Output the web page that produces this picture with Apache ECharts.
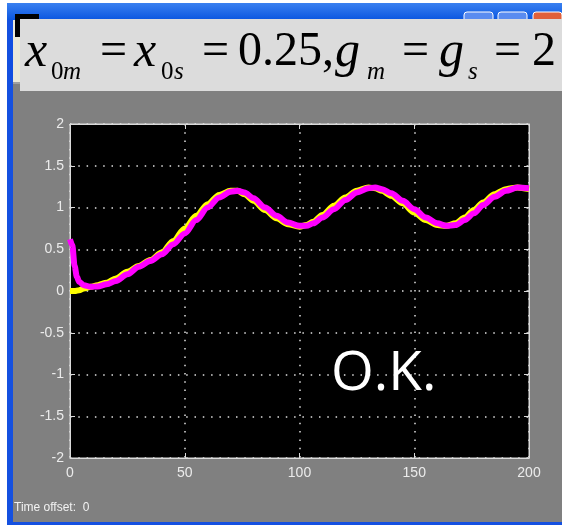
<!DOCTYPE html>
<html>
<head>
<meta charset="utf-8">
<script src="https://cdn.jsdelivr.net/npm/echarts@6.0.0/dist/echarts.min.js"></script>
<style>
html,body{margin:0;padding:0;background:#808080;}
#c{width:562px;height:525px;}
</style>
</head>
<body>
<div id="c"></div>
<script>
// ---- data ----
const timeMagenta = [0, 1, 2, 3, 4, 6, 9, 12, 16, 20, 25, 30, 35, 40, 45, 50, 55, 60, 65, 70, 73, 76, 80, 85, 90, 95, 100, 103, 106, 110, 115, 120, 125, 130, 133, 136, 140, 145, 150, 155, 160, 164, 168, 172, 176, 180, 185, 190, 195, 200];
const magentaValues = [0.62, 0.55, 0.3, 0.17, 0.11, 0.07, 0.05, 0.055, 0.08, 0.12, 0.2, 0.29, 0.36, 0.44, 0.56, 0.69, 0.85, 1.0, 1.12, 1.19, 1.2, 1.18, 1.11, 1.0, 0.9, 0.82, 0.78, 0.78, 0.81, 0.88, 0.98, 1.09, 1.18, 1.23, 1.24, 1.22, 1.17, 1.08, 0.98, 0.88, 0.81, 0.78, 0.79, 0.85, 0.93, 1.03, 1.13, 1.2, 1.24, 1.23];
const timeYellow = [0, 2, 4, 6, 9, 12, 16, 20, 25, 30, 35, 40, 45, 50, 55, 60, 65, 70, 73, 76, 80, 85, 90, 95, 100, 103, 106, 110, 115, 120, 125, 130, 133, 136, 140, 145, 150, 155, 160, 164, 168, 172, 176, 180, 185, 190, 195, 200];
const yellowValues = [0, 0, 0.01, 0.03, 0.05, 0.07, 0.1, 0.15, 0.23, 0.3, 0.37, 0.46, 0.6, 0.75, 0.9, 1.04, 1.15, 1.2, 1.2, 1.16, 1.08, 0.97, 0.87, 0.8, 0.77, 0.79, 0.83, 0.91, 1.02, 1.12, 1.2, 1.24, 1.23, 1.2, 1.14, 1.05, 0.94, 0.85, 0.79, 0.78, 0.81, 0.88, 0.97, 1.06, 1.16, 1.22, 1.24, 1.22];
const xTicks = [0, 50, 100, 150, 200];
const yTicks = [-2, -1.5, -1, -0.5, 0, 0.5, 1, 1.5, 2];
const titleParts = ['x', '0', 'm', '=', 'x', '0', 's', '=', '0.25,', 'g', 'm', '=', 'g', 's', '=', '2'];
const annotation = 'O.K.';
const footerText = 'Time offset:  0';

const chart = echarts.init(document.getElementById('c'), null, {renderer: 'canvas'});

const labelColor = '#ebebeb';
const frameColor = '#dadada';
const dotLine = {show: true, lineStyle: {color: '#e0e0e0', width: 1.5, type: [1.5, 6.8]}};

function serif(txt, x, y, size, italic, z) {
  return {type: 'text', x: x, y: y, z: z || 20,
    style: {text: txt, fill: '#000', font: (italic ? 'italic ' : '') + size + 'px "Liberation Serif", "DejaVu Serif", serif',
      verticalAlign: 'middle', align: 'left'}};
}
const mainY = 52.5, subY = 72;
const titleLayout = [
  [25, mainY, 50, true], [51, subY, 25, false], [63, subY, 25, true],
  [100, mainY, 48, false],
  [134, mainY, 50, true], [161, subY, 25, false], [174, subY, 25, true],
  [202, mainY, 48, false],
  [238, mainY, 48, false],
  [335, mainY, 50, true], [367, subY, 25, true],
  [402, mainY, 48, false],
  [439, mainY, 50, true], [468, subY, 25, true],
  [494, mainY, 48, false],
  [532, mainY, 48, false]
];
const titleEls = titleParts.map((p, i) => serif(p, titleLayout[i][0], titleLayout[i][1], titleLayout[i][2], titleLayout[i][3]));

const axisCommon = {
  axisLine: {show: true, onZero: false, lineStyle: {color: frameColor}},
  axisTick: {show: true, inside: true, length: 5, lineStyle: {color: frameColor}}
};

const frameEls = [
  {type: 'rect', shape: {x: 0, y: 0, width: 562, height: 3}, style: {fill: '#ffffff'}, z: 1},
  {type: 'rect', shape: {x: 0, y: 0, width: 7, height: 525}, style: {fill: '#ffffff'}, z: 1},
  {type: 'rect', shape: {x: 7, y: 3, width: 6, height: 522}, style: {fill: '#1450e0'}, z: 2},
  {type: 'rect', shape: {x: 7, y: 3, width: 555, height: 17},
    style: {fill: new echarts.graphic.LinearGradient(0, 0, 0, 1, [{offset: 0, color: '#3a80f0'}, {offset: 1, color: '#0a56e0'}])}, z: 2},
  {type: 'rect', shape: {x: 13, y: 20, width: 8, height: 62}, style: {fill: '#ece9d8'}, z: 2},
  {type: 'rect', shape: {x: 13, y: 82, width: 8, height: 2}, style: {fill: '#a0a0a0'}, z: 2},
  {type: 'rect', shape: {x: 15, y: 14, width: 24, height: 23}, style: {fill: '#000'}, z: 3},
  {type: 'rect', shape: {x: 464, y: 12, width: 29, height: 10, r: 3}, style: {fill: '#5a8cf0', stroke: '#ffffff', lineWidth: 1}, z: 3},
  {type: 'rect', shape: {x: 498, y: 12, width: 29, height: 10, r: 3}, style: {fill: '#5a8cf0', stroke: '#ffffff', lineWidth: 1}, z: 3},
  {type: 'rect', shape: {x: 533, y: 12, width: 29, height: 10, r: 3}, style: {fill: '#e0603a', stroke: '#ffffff', lineWidth: 1}, z: 3},
  {type: 'rect', shape: {x: 7, y: 522, width: 555, height: 3}, style: {fill: '#1450e0'}, z: 2},
  {type: 'rect', shape: {x: 20, y: 19, width: 542, height: 72}, style: {fill: '#dcdcdc'}, z: 10},
  {type: 'text', x: 14, y: 508, z: 10, style: {text: footerText, fill: '#f2f2f2', font: '12px "Liberation Sans", Arial, sans-serif', verticalAlign: 'middle'}},
  {type: 'text', x: 331, y: 374, z: 100, style: {text: annotation, fill: '#ffffff', font: '55px "Open Sans", "Noto Sans", sans-serif', verticalAlign: 'middle'}}
];

const data1 = timeYellow.map((t, i) => [t, yellowValues[i]]);
const data2 = timeMagenta.map((t, i) => [t, magentaValues[i]]);

chart.setOption({
  backgroundColor: '#808080',
  animation: false,
  grid: {left: 70, right: 33, top: 124, bottom: 67, show: true, backgroundColor: '#000000', borderColor: frameColor, borderWidth: 1, containLabel: false},
  xAxis: [
    Object.assign({type: 'value', min: xTicks[0], max: xTicks[xTicks.length - 1], interval: 50, position: 'bottom',
      axisLabel: {color: labelColor, fontSize: 14, fontFamily: '"Liberation Sans", Arial, sans-serif', margin: 8},
      splitLine: dotLine}, axisCommon),
    Object.assign({type: 'value', min: 0, max: 200, interval: 50, position: 'top',
      axisLabel: {show: false}, splitLine: {show: false}}, axisCommon)
  ],
  yAxis: [
    Object.assign({type: 'value', min: yTicks[0], max: yTicks[yTicks.length - 1], interval: 0.5, position: 'left',
      axisLabel: {color: labelColor, fontSize: 14, fontFamily: '"Liberation Sans", Arial, sans-serif', margin: 6},
      splitLine: dotLine}, axisCommon),
    Object.assign({type: 'value', min: -2, max: 2, interval: 0.5, position: 'right',
      axisLabel: {show: false}, splitLine: {show: false}}, axisCommon)
  ],
  graphic: frameEls.concat(titleEls),
  series: [
    {type: 'line', name: 'yellow', data: data1, showSymbol: false, smooth: 0.3, smoothMonotone: 'x', clip: true,
      lineStyle: {color: '#ffff00', width: 6}, z: 3},
    {type: 'line', name: 'magenta', data: data2, showSymbol: false, smooth: 0.3, smoothMonotone: 'x', clip: true,
      lineStyle: {color: '#ff00ff', width: 6}, z: 4}
  ]
});
</script>
</body>
</html>
